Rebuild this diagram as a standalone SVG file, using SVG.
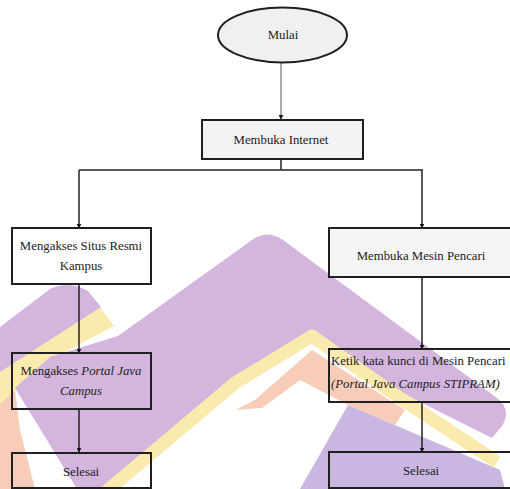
<svg xmlns="http://www.w3.org/2000/svg" width="510" height="489" viewBox="0 0 510 489">
  <defs>
    <style>
      .box { stroke: #1f1f1f; stroke-width: 2; }
      .lbl { font-size: 12.8px; fill: #222; }
      .c { text-anchor: middle; }
      .it { font-style: italic; }
      .wire { fill: none; stroke: #222; stroke-width: 1.5; }
      .thin { fill: none; stroke: #555; stroke-width: 1; }
    </style>
    <marker id="arr" viewBox="0 0 10 10" refX="9" refY="5" markerWidth="5" markerHeight="5" orient="auto" markerUnits="userSpaceOnUse">
      <path d="M0,0 L10,5 L0,10 Z" fill="#111"/>
    </marker>
  </defs>

  <rect width="510" height="489" fill="#ffffff"/>

  <!-- background emblem -->
  <g id="emblem">
    <polygon points="0,400 15,390 20,430 35,489 0,489" fill="#f7cdb9"/>
    <polygon points="0,366 100,307 114,326 50,360 15,390 0,404" fill="#fbeaae"/>
    <path d="M0,327 L50,289 Q70,280 88,291 L101,307 L0,372 Z" fill="#d4b5dd"/>
    <polygon points="235,410 255,400 312,350 405,410 395,425 348,405 300,380 262,408" fill="#f7cdb9"/>
    <polygon points="348,405 500,470 505,489 300,489" fill="#c9b7e2"/>
    <path d="M15,388 L50,357 L118,336 L252,240 Q267,229 283,240 L497,398 Q512,410 502,426 L492,438 L400,392 L312,330 L235,376 L100,489 L77,489 Z" fill="#d4b5dd"/>
    <polyline points="102,495 235,383 312,336 400,398 497,462" fill="none" stroke="#fbeaae" stroke-width="13" stroke-linejoin="round"/>
  </g>

  <!-- connectors -->
  <g id="connectors">
    <line class="thin" x1="281" y1="63" x2="281" y2="119" marker-end="url(#arr)"/>
    <polyline class="wire" points="281,159 281,170"/>
    <polyline class="wire" points="79,170 423,170"/>
    <line class="wire" x1="79" y1="170" x2="79" y2="228" marker-end="url(#arr)"/>
    <line class="wire" x1="422" y1="170" x2="422" y2="228" marker-end="url(#arr)"/>
    <line class="wire" x1="79" y1="284" x2="79" y2="353" marker-end="url(#arr)"/>
    <line class="wire" x1="79" y1="409" x2="79" y2="452" marker-end="url(#arr)"/>
    <line class="wire" x1="422" y1="277" x2="422" y2="349" marker-end="url(#arr)"/>
    <line class="wire" x1="422" y1="402" x2="422" y2="452" marker-end="url(#arr)"/>
  </g>

  <g id="nodes" font-family="'Liberation Serif', Tinos, 'Times New Roman', 'DejaVu Serif', serif">
    <g id="mulai">
      <ellipse class="box" cx="282.5" cy="35" rx="64.5" ry="27.5" fill="#f0f0f3"/>
      <text class="lbl c" x="283" y="39">Mulai</text>
    </g>

    <g id="membuka-internet">
      <rect class="box" x="202" y="120" width="161" height="39" fill="#f3f3f6"/>
      <text class="lbl c" x="281" y="144">Membuka Internet</text>
    </g>

    <g id="situs-resmi">
      <rect class="box" x="12" y="228" width="139" height="56" fill="#ffffff"/>
      <text class="lbl c" x="81" y="250">Mengakses Situs Resmi</text>
      <text class="lbl c" x="81" y="270">Kampus</text>
    </g>

    <g id="mesin-pencari">
      <rect class="box" x="329" y="228" width="186" height="49" fill="#f5f5f8"/>
      <text class="lbl c" x="421" y="260">Membuka Mesin Pencari</text>
    </g>

    <g id="portal-kiri">
      <rect class="box" x="12" y="353" width="139" height="56" fill="none"/>
      <text class="lbl c" x="81" y="375">Mengakses <tspan class="it">Portal Java</tspan></text>
      <text class="lbl c it" x="81" y="395">Campus</text>
    </g>

    <g id="kata-kunci">
      <rect class="box" x="329" y="349" width="186" height="53" fill="none"/>
      <text class="lbl" x="331" y="365">Ketik kata kunci di Mesin Pencari</text>
      <text class="lbl it" x="331" y="388">(Portal Java Campus STIPRAM)</text>
    </g>

    <g id="selesai-kiri">
      <rect class="box" x="12" y="453" width="139" height="35" fill="none"/>
      <text class="lbl c" x="81" y="476">Selesai</text>
    </g>

    <g id="selesai-kanan">
      <rect class="box" x="329" y="452" width="186" height="36" fill="none"/>
      <text class="lbl c" x="421" y="475">Selesai</text>
    </g>
  </g>
</svg>
